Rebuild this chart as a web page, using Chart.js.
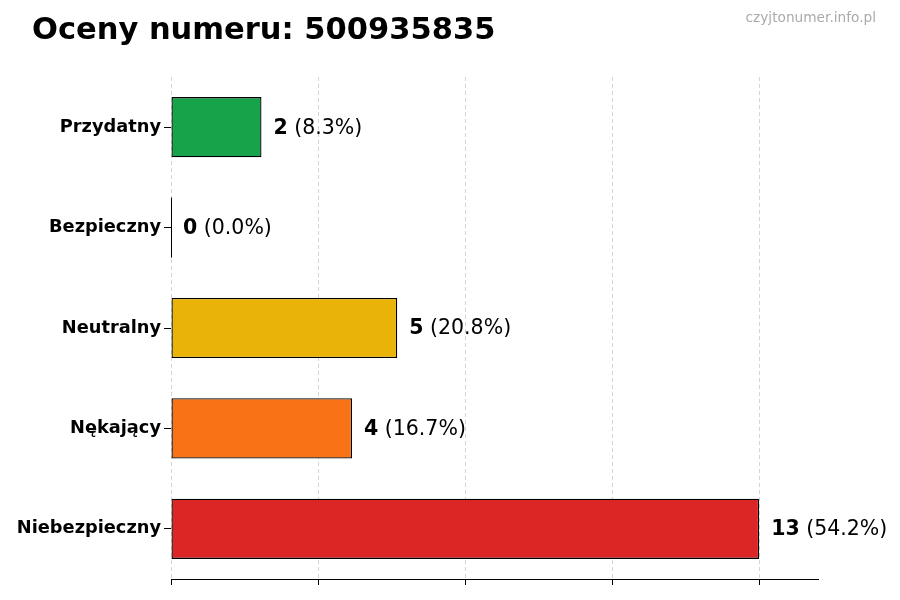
<!DOCTYPE html>
<html>
<head>
<meta charset="utf-8">
<script src="https://cdn.jsdelivr.net/npm/chart.js@4.4.1/dist/chart.umd.min.js"></script>
<style>
  html, body { margin: 0; padding: 0; background: #fff; }
  #wrap { width: 900px; height: 600px; }
</style>
</head>
<body>
<div id="wrap"><canvas id="chart-oceny"></canvas></div>
<script>
// dane z wykresu
let categories = ['Przydatny', 'Bezpieczny', 'Neutralny', 'Nękający', 'Niebezpieczny'];
let counts = [2, 0, 5, 4, 13];
let percents = ['8.3%', '0.0%', '20.8%', '16.7%', '54.2%'];
let bar_colors = ['#16a34a', '#3b82f6', '#eab308', '#f97316', '#dc2626'];
let x_ticks = [0, 3.25, 6.5, 9.75, 13];
let x_max = 14.3;
let title_text = 'Oceny numeru: 500935835';
let watermark = 'czyjtonumer.info.pl';

const FONT = "'DejaVu Sans', sans-serif";

// tytul, znak wodny i etykiety przy slupkach
const labels_plugin = {
    id: 'labels_plugin',
    afterDraw(chart) {
        let ctx = chart.ctx;
        let xs = chart.scales.x;
        let ys = chart.scales.y;
        ctx.save();
        ctx.fillStyle = '#000';
        ctx.font = `bold 30.5px ${FONT}`;
        ctx.textAlign = 'left';
        ctx.textBaseline = 'middle';
        ctx.fillText(title_text, 32, 31);

        ctx.fillStyle = '#aaaaaa';
        ctx.font = `13.7px ${FONT}`;
        ctx.textAlign = 'right';
        ctx.fillText(watermark, 876, 18);

        // krawedz slupka o zerowej szerokosci
        counts.forEach((v, i) => {
            if (v === 0) {
                let x0 = xs.getPixelForValue(0);
                let y = ys.getPixelForValue(i);
                ctx.strokeStyle = '#000';
                ctx.lineWidth = 1;
                ctx.beginPath();
                ctx.moveTo(x0 + 0.5, y - 30);
                ctx.lineTo(x0 + 0.5, y + 30);
                ctx.stroke();
            }
        });

        counts.forEach((v, i) => {
            let x = xs.getPixelForValue(v) + 12;
            let y = ys.getPixelForValue(i) + 1;
            ctx.fillStyle = '#000';
            ctx.textAlign = 'left';
            ctx.font = `bold 20.5px ${FONT}`;
            let num = String(v);
            ctx.fillText(num, x, y);
            let w = ctx.measureText(num).width;
            ctx.font = `20.5px ${FONT}`;
            ctx.fillText(' (' + percents[i] + ')', x + w, y);
        });
        ctx.restore();
    }
};

let ctx = document.getElementById('chart-oceny');
var chart = new Chart(ctx, {
    type: 'bar',
    data: {
        labels: categories,
        datasets: [
            {
                data: counts,
                backgroundColor: bar_colors,
                borderColor: '#000',
                borderWidth: 1.3,
                borderSkipped: false,
                barPercentage: 0.6,
                categoryPercentage: 1.0
            }
        ]
    },
    options: {
        indexAxis: 'y',
        responsive: true,
        maintainAspectRatio: false,
        animation: false,
        layout: { padding: { top: 77, right: 82, left: 0, bottom: 0 } },
        scales: {
            x: {
                min: 0,
                max: x_max,
                afterBuildTicks: (scale) => { scale.ticks = x_ticks.map(v => ({ value: v })); },
                afterFit: (scale) => { scale.height = 21; },
                ticks: { display: false },
                grid: {
                    color: '#d4d4d4',
                    tickColor: '#000',
                    tickLength: 6,
                    tickBorderDash: []
                },
                border: { display: true, color: '#000', width: 1, dash: [4, 3] }
            },
            y: {
                offset: true,
                afterFit: (scale) => { scale.width = 171; },
                ticks: {
                    color: '#000',
                    padding: 3,
                    font: { family: FONT, size: 17.8, weight: 'bold' }
                },
                grid: {
                    offset: false,
                    drawOnChartArea: false,
                    drawTicks: true,
                    tickLength: 7,
                    tickColor: '#000'
                },
                border: { display: false }
            }
        },
        plugins: {
            legend: { display: false },
            tooltip: { enabled: false },
            title: { display: false }
        }
    },
    plugins: [labels_plugin]
});
</script>
</body>
</html>
